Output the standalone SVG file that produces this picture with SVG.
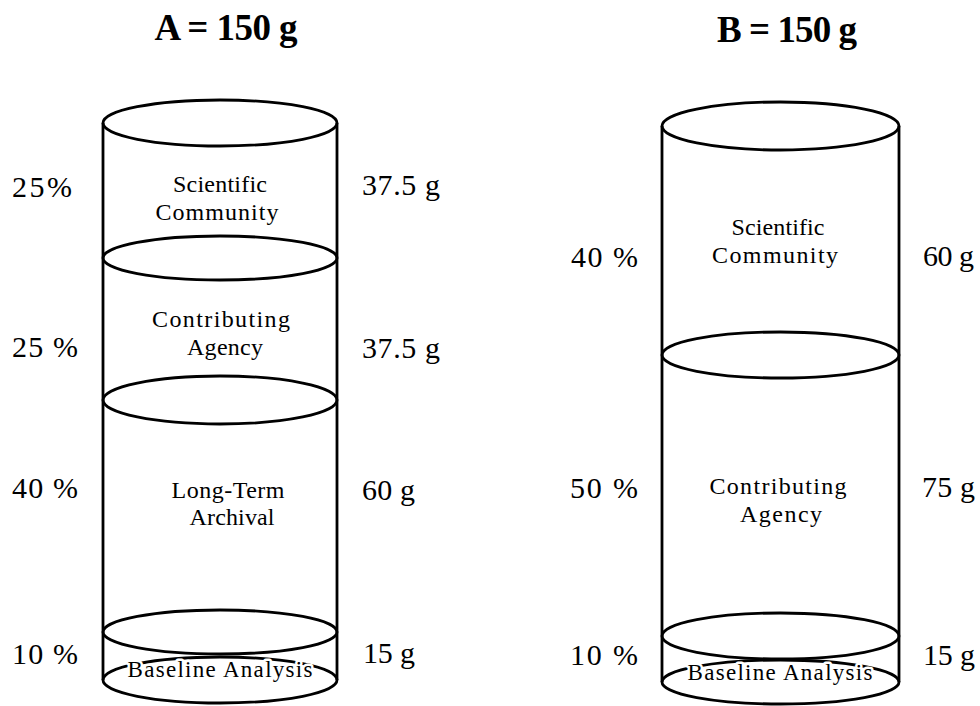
<svg xmlns="http://www.w3.org/2000/svg" width="980" height="706" viewBox="0 0 980 706">
<style>
.s{fill:none;stroke:#000;stroke-width:2.8}
text{font-family:"Liberation Serif","Times New Roman",serif;fill:#000}
.t{font-size:37px;font-weight:bold;text-anchor:middle}
.n{font-size:30px}
.l{font-size:24px;text-anchor:middle}
.b{font-size:23px;text-anchor:middle;stroke:#fff;stroke-width:5;paint-order:stroke;stroke-linejoin:round}
</style>
<rect width="980" height="706" fill="#fff"/>
<g id="cylinderA">
  <text class="t" x="226" y="40" textLength="143">A = 150 g</text>
  <line class="s" x1="103" y1="123" x2="103" y2="680"/>
  <line class="s" x1="337" y1="123" x2="337" y2="680"/>
  <g id="A-scientific">
    <ellipse class="s" cx="220" cy="123" rx="117" ry="23"/>
    <text class="l" x="220" y="192" textLength="94">Scientific</text>
    <text class="l" x="217" y="220" textLength="123">Community</text>
    <text class="n" x="12" y="197" textLength="60">25%</text>
    <text class="n" x="362" y="195" textLength="78">37.5 g</text>
  </g>
  <g id="A-contributing">
    <ellipse class="s" cx="220" cy="258" rx="117" ry="22"/>
    <text class="l" x="221" y="327" textLength="138">Contributing</text>
    <text class="l" x="225" y="355" textLength="76">Agency</text>
    <text class="n" x="12" y="357" textLength="66">25 %</text>
    <text class="n" x="362" y="358" textLength="78">37.5 g</text>
  </g>
  <g id="A-longterm">
    <ellipse class="s" cx="220" cy="400" rx="117" ry="24"/>
    <text class="l" x="228" y="498" textLength="113">Long-Term</text>
    <text class="l" x="232" y="525" textLength="85">Archival</text>
    <text class="n" x="12" y="498" textLength="66">40 %</text>
    <text class="n" x="362" y="500" textLength="53">60 g</text>
  </g>
  <g id="A-baseline">
    <ellipse class="s" cx="220" cy="632" rx="117" ry="22"/>
    <ellipse class="s" cx="220" cy="680" rx="117" ry="23"/>
    <text class="b" x="220" y="677" textLength="185">Baseline Analysis</text>
    <text class="n" x="12" y="664" textLength="66">10 %</text>
    <text class="n" x="363" y="663" textLength="52">15 g</text>
  </g>
</g>
<g id="cylinderB">
  <text class="t" x="787" y="42" textLength="140">B = 150 g</text>
  <line class="s" x1="662" y1="126" x2="662" y2="682"/>
  <line class="s" x1="899" y1="126" x2="899" y2="682"/>
  <g id="B-scientific">
    <ellipse class="s" cx="780.5" cy="126" rx="118.5" ry="24"/>
    <text class="l" x="778" y="235" textLength="93">Scientific</text>
    <text class="l" x="775" y="263" textLength="126">Community</text>
    <text class="n" x="571" y="267" textLength="67">40 %</text>
    <text class="n" x="923" y="266" textLength="51">60 g</text>
  </g>
  <g id="B-contributing">
    <ellipse class="s" cx="780.5" cy="355" rx="118.5" ry="23"/>
    <text class="l" x="778" y="494" textLength="137">Contributing</text>
    <text class="l" x="781" y="522" textLength="82">Agency</text>
    <text class="n" x="570" y="498" textLength="68">50 %</text>
    <text class="n" x="922" y="497" textLength="53">75 g</text>
  </g>
  <g id="B-baseline">
    <ellipse class="s" cx="780.5" cy="636" rx="118.5" ry="23"/>
    <ellipse class="s" cx="780.5" cy="682" rx="118.5" ry="22"/>
    <text class="b" x="780" y="680" textLength="185">Baseline Analysis</text>
    <text class="n" x="570" y="665" textLength="68">10 %</text>
    <text class="n" x="923" y="665" textLength="52">15 g</text>
  </g>
</g>
</svg>
